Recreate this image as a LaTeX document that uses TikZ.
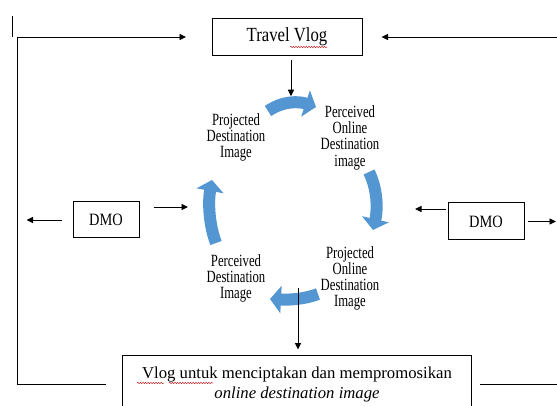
\documentclass[tikz,border=0pt]{standalone}
\usepackage{fontspec}
\setmainfont{Liberation Serif}
\usetikzlibrary{arrows.meta,decorations.pathmorphing}
\definecolor{cycblue}{RGB}{84,150,210}
\definecolor{squig}{RGB}{200,40,40}
\newcommand{\cyctext}[1]{\scalebox{1}[1.35]{\fontsize{12.7}{11.85}\selectfont\begin{tabular}{@{}c@{}}#1\end{tabular}}}
\newcommand{\talltext}[2]{\scalebox{1}[#1]{#2}}
\tikzset{
  box/.style={draw=black,line width=1pt,fill=white,inner sep=2pt},
  bigtxt/.style={font=\fontsize{16.7}{19.5}\selectfont},
  dmotxt/.style={font=\fontsize{14.4}{17}\selectfont},
  cyc/.style={align=center,inner sep=0pt},
  conn/.style={draw=black,line width=0.9pt},
  arr/.style={conn,-{Triangle[length=6.5pt,width=6pt]}},
  bluearr/.style={draw=cycblue,line width=12pt,-{Triangle[length=11pt,width=27pt]}},
  spell/.style={draw=squig,line width=0.5pt,decorate,decoration={snake,amplitude=0.7pt,segment length=2.6pt}}
}
\begin{document}
\begin{tikzpicture}[x=1pt,y=-1pt]
\clip (0,0) rectangle (557,406);
\fill[white] (0,0) rectangle (557,406);

% boxes
\node[box,bigtxt,minimum width=150pt,minimum height=37.5pt] (tv) at (287,37) {\talltext{1.2}{Travel Vlog}};
\node[box,dmotxt,minimum width=66pt,minimum height=36pt] (dmoL) at (106,220) {\talltext{1.2}{DMO}};
\node[box,dmotxt,minimum width=76pt,minimum height=37pt] (dmoR) at (486,221.5) {\talltext{1.2}{DMO}};
\node[box,bigtxt,minimum width=349pt,minimum height=59pt,align=center] (vb) at (297,384.5)
  {Vlog untuk menciptakan dan mempromosikan\\\textit{online destination image}};

% cycle texts
\node[cyc] (pdi) at (236,137.7) {\cyctext{Projected\\Destination\\Image}};
\node[cyc] (podi) at (350,138) {\cyctext{Perceived\\Online\\Destination\\image}};
\node[cyc] (pondi) at (350,279) {\cyctext{Projected\\Online\\Destination\\Image}};
\node[cyc] (pdi2) at (236,279.3) {\cyctext{Perceived\\Destination\\Image}};

% blue cycle arrows
\draw[bluearr] (268,111) .. controls (283,101) and (298,101) .. (316,107);
\draw[bluearr] (369,172) .. controls (377,188) and (378,208) .. (373,230);
\draw[bluearr] (318,294) .. controls (305,299) and (290,300) .. (270,299);
\draw[bluearr] (216,243) .. controls (209,225) and (208,202) .. (212,180);

% coordinates
\coordinate (lcorner) at (17,384.5);
\coordinate (rbot) at (570,384.5);
\coordinate (rtop) at (570,37);
\coordinate (dnA) at (298,288);
\coordinate (barT) at (12.8,16);
\coordinate (barB) at (12.8,37);

% feedback loops
\draw[arr] ([xshift=-16pt]vb.west) -- (lcorner) |- ([xshift=-25.5pt]tv.west);
\draw[arr] ([xshift=8pt]vb.east) -- (rbot) -- (rtop) -- ([xshift=19pt]tv.east);
\draw[conn] (barT) -- (barB);

% vertical arrows
\draw[arr] ([xshift=4pt,yshift=-4pt]tv.south) -- ([xshift=4pt,yshift=-40pt]tv.south);
\draw[arr] (dnA) -- ([xshift=1pt,yshift=5pt]vb.north);

% DMO arrows
\draw[arr] ([xshift=-11pt]dmoL.west) -- ++(-35,0);
\draw[arr] ([xshift=14pt,yshift=13pt]dmoL.east) -- ++(34.5,0);
\draw[arr] ([xshift=-2pt,yshift=12.5pt]dmoR.west) -- ++(-30.5,0);
\draw[arr] ([xshift=3.5pt]dmoR.east) -- (556,221.5);

% spell-check underlines
\draw[spell] (290,47) -- (327,47);
\draw[spell] (137,383) -- (164,383);
\draw[spell] (169,383) -- (213,383);
\end{tikzpicture}
\end{document}
